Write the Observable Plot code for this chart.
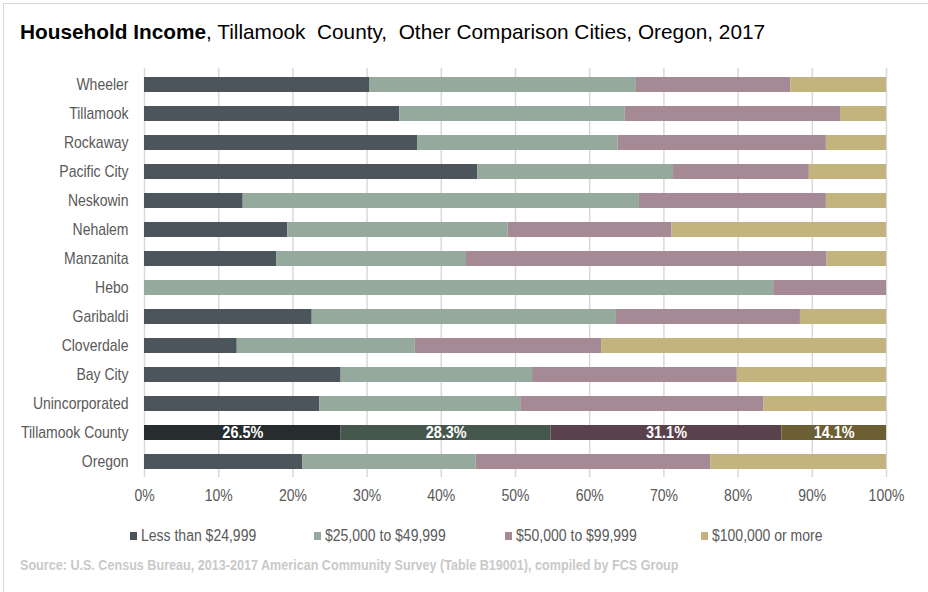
<!DOCTYPE html>
<html><head><meta charset="utf-8">
<script src="https://cdn.jsdelivr.net/npm/d3@7"></script>
<script src="https://cdn.jsdelivr.net/npm/@observablehq/plot@0.6"></script>
<style>
body{margin:0;background:#fff;}
#wrap{position:relative;width:928px;height:592px;overflow:hidden;background:#fff;font-family:"Liberation Sans",Arial,sans-serif;}
#frame{position:absolute;left:3px;top:3px;width:940px;height:600px;border-left:1.5px solid #d9d9d9;border-top:1.5px solid #d9d9d9;}
#title{position:absolute;left:20px;top:20px;font-size:20.8px;color:#000;white-space:nowrap;}
#chart{position:absolute;left:0;top:60px;}
#legend{position:absolute;left:0;top:527px;width:928px;height:20px;font-size:16px;color:#595959;}
#legend .item{position:absolute;top:0;white-space:nowrap;}
#legend .sw{position:absolute;left:0;top:5px;width:7px;height:8px;}
#legend .lab{position:absolute;left:11px;top:0;display:inline-block;transform:scaleX(0.875);transform-origin:0 50%;}
#source{position:absolute;left:20px;top:557px;font-size:14.4px;font-weight:bold;color:#c9c9c9;white-space:nowrap;transform:scaleX(0.875);transform-origin:0 50%;}
</style>
</head><body>
<div id="wrap">
<div id="frame"></div>
<div id="title"><b>Household Income</b>, Tillamook&nbsp; County,&nbsp; Other Comparison Cities, Oregon, 2017</div>
<div id="chart"></div>
<div id="legend"></div>
<div id="source">Source: U.S. Census Bureau, 2013-2017 American Community Survey (Table B19001), compiled by FCS Group</div>
</div>
<script>
const places = ["Wheeler","Tillamook","Rockaway","Pacific City","Neskowin","Nehalem","Manzanita","Hebo","Garibaldi","Cloverdale","Bay City","Unincorporated","Tillamook County","Oregon"];
const categories = ["Less than $24,999","$25,000 to $49,999","$50,000 to $99,999","$100,000 or more"];
const lessThan25k   = [30.4, 34.4, 36.8, 44.9, 13.3, 19.3, 17.8, 0.0, 22.6, 12.5, 26.5, 23.6, 26.5, 21.3];
const from25to50k   = [35.9, 30.4, 27.0, 26.4, 53.4, 29.7, 25.6, 84.8, 41.0, 24.0, 25.8, 27.1, 28.3, 23.4];
const from50to100k  = [20.8, 29.0, 28.1, 18.3, 25.2, 22.1, 48.6, 15.2, 24.8, 25.1, 27.6, 32.8, 31.1, 31.6];
const over100k      = [12.9,  6.2,  8.1, 10.4,  8.1, 28.9,  8.0,  0.0, 11.6, 38.4, 20.1, 16.5, 14.1, 23.7];
const colors     = ["#4b555b","#95aa9c","#a58a95","#c3b37c"];
const highlight  = ["#272c2e","#46584d","#59424c","#6b5f33"];
const highlightPlace = "Tillamook County";
const xTicks = [0,10,20,30,40,50,60,70,80,90,100];
const legendLeft = [130, 314, 505, 701];
const narrow = 0.875;

const series = [lessThan25k, from25to50k, from50to100k, over100k];
const rows = [];
places.forEach((p, i) => {
  categories.forEach((c, k) => {
    rows.push({place: p, cat: c, k, value: series[k][i],
      fill: p === highlightPlace ? highlight[k] : colors[k]});
  });
});

const chart = Plot.plot({
  width: 928,
  height: 460,
  marginLeft: 144,
  marginRight: 42,
  marginTop: 8,
  marginBottom: 43,
  style: {fontFamily: '"Liberation Sans",Arial,sans-serif', fontSize: "16px", color: "#595959", background: "transparent"},
  x: {domain: [0, 100]},
  y: {domain: places, paddingInner: 0.49, paddingOuter: 0.245},
  color: {type: "identity"},
  marks: [
    Plot.ruleX(xTicks, {stroke: "#d9d9d9", strokeWidth: 1.5}),
    Plot.barX(rows, Plot.stackX({x: "value", y: "place", z: "k", fill: "fill", order: null})),
    Plot.text(rows.filter(d => d.place === highlightPlace), Plot.stackX({x: "value", y: "place", z: "k", order: null,
      text: d => d.value.toFixed(1) + "%", fill: "white", fontWeight: "bold", fontSize: 16.5})),
    Plot.axisX({ticks: xTicks, tickSize: 0, tickPadding: 12, tickFormat: d => d + "%", label: null, fontSize: 16}),
    Plot.axisY({tickSize: 0, tickPadding: 16, label: null, fontSize: 16})
  ]
});
// emulate a narrow typeface: compress every text horizontally around its anchor
chart.querySelectorAll("text").forEach(t => {
  const tr = t.getAttribute("transform") || "";
  const xs = t.getAttribute("x");
  const xv = xs != null && !isNaN(+xs) ? +xs : 0;
  if (xs != null && !isNaN(+xs)) t.removeAttribute("x");
  t.setAttribute("transform", `${tr} translate(${xv},0) scale(${narrow},1)`);
});
document.getElementById("chart").appendChild(chart);

const legend = document.getElementById("legend");
categories.forEach((c, k) => {
  const it = document.createElement("div");
  it.className = "item";
  it.style.left = legendLeft[k] + "px";
  const sw = document.createElement("span");
  sw.className = "sw";
  sw.style.background = colors[k];
  it.appendChild(sw);
  const lab = document.createElement("span");
  lab.className = "lab";
  lab.textContent = c;
  it.appendChild(lab);
  legend.appendChild(it);
});
</script>
</body></html>
